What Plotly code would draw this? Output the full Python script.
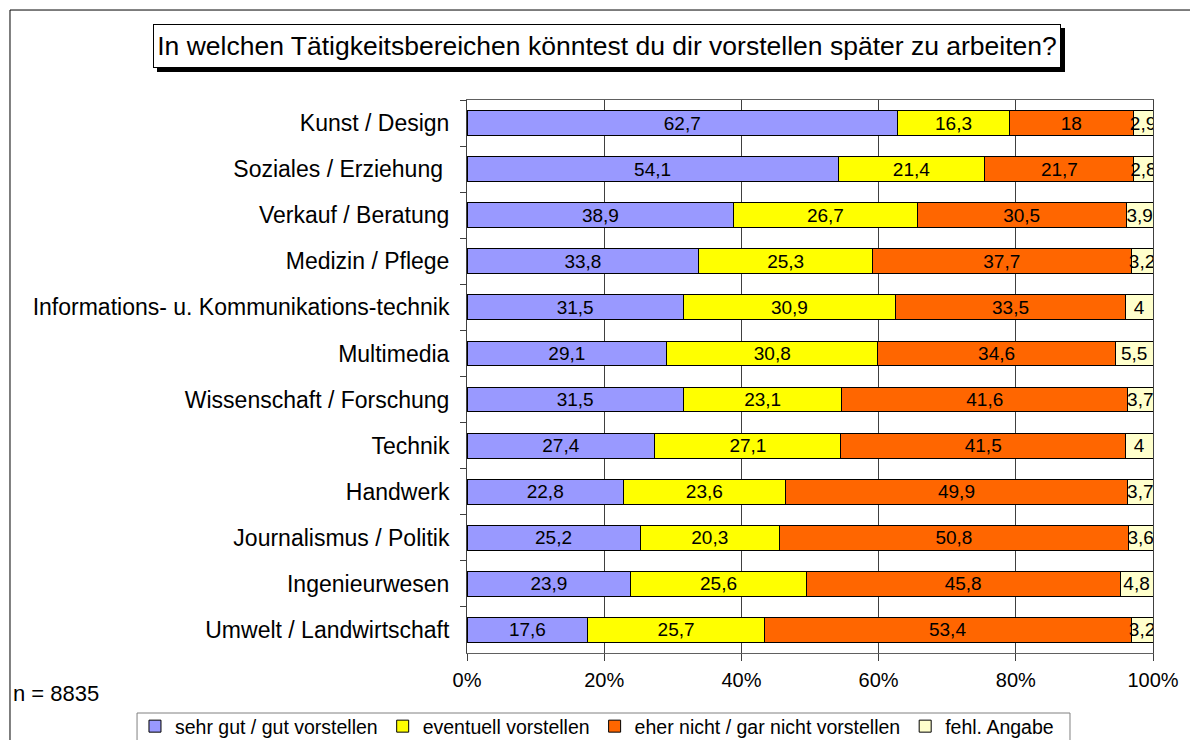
import plotly.graph_objects as go

# categories, top to bottom
categories = [
    "Kunst / Design",
    "Soziales / Erziehung\u00a0",
    "Verkauf / Beratung",
    "Medizin / Pflege",
    "Informations- u. Kommunikations-technik",
    "Multimedia",
    "Wissenschaft / Forschung",
    "Technik",
    "Handwerk",
    "Journalismus / Politik",
    "Ingenieurwesen",
    "Umwelt / Landwirtschaft",
]

sehr_gut = [62.7, 54.1, 38.9, 33.8, 31.5, 29.1, 31.5, 27.4, 22.8, 25.2, 23.9, 17.6]
eventuell = [16.3, 21.4, 26.7, 25.3, 30.9, 30.8, 23.1, 27.1, 23.6, 20.3, 25.6, 25.7]
eher_nicht = [18, 21.7, 30.5, 37.7, 33.5, 34.6, 41.6, 41.5, 49.9, 50.8, 45.8, 53.4]
fehl_angabe = [2.9, 2.8, 3.9, 3.2, 4, 5.5, 3.7, 4, 3.7, 3.6, 4.8, 3.2]

tick_vals = [0, 20, 40, 60, 80, 100]
tick_text = ["0%", "20%", "40%", "60%", "80%", "100%"]

series = [
    ("sehr gut / gut vorstellen", sehr_gut, "#9999FF"),
    ("eventuell vorstellen", eventuell, "#FFFF00"),
    ("eher nicht / gar nicht vorstellen", eher_nicht, "#FF6600"),
    ("fehl. Angabe", fehl_angabe, "#FFFFCC"),
]

FONT = "Arial, Liberation Sans, sans-serif"


def fmt(v):
    return f"{v:g}".replace(".", ",")


fig = go.Figure()
for name, vals, color in series:
    fig.add_trace(
        go.Bar(
            y=categories,
            x=vals,
            name=name,
            orientation="h",
            marker=dict(color=color, line=dict(color="black", width=1)),
            text=[fmt(v) for v in vals],
            textposition="inside",
            insidetextanchor="middle",
            textangle=0,
            constraintext="none",
            textfont=dict(family=FONT, size=19, color="black"),
            hoverinfo="name+x",
        )
    )

# title box with drop shadow
title = "In welchen Tätigkeitsbereichen könntest du dir vorstellen später zu arbeiten?"
for bg, shift in [("black", 4), ("white", 0)]:
    fig.add_annotation(
        text=title,
        xref="paper", yref="paper",
        x=0.2041, y=1.0976,
        xanchor="center", yanchor="middle",
        xshift=shift, yshift=-shift,
        width=906, height=42,
        showarrow=False,
        font=dict(family=FONT, size=26.5, color="black"),
        bgcolor=bg,
        bordercolor="black",
        borderwidth=1,
        borderpad=0,
    )

fig.add_annotation(
    text="n = 8835",
    xref="paper", yref="paper",
    x=-0.664, y=-0.073,
    xanchor="left", yanchor="middle",
    showarrow=False,
    font=dict(family=FONT, size=22, color="black"),
)

# outer chart border
fig.add_shape(
    type="rect", xref="paper", yref="paper",
    x0=-0.6662, x1=1.3, y0=-0.3, y1=1.1627,
    line=dict(color="black", width=1),
    layer="below",
)

# legend frame (runs off the bottom edge like in the original)
fig.add_shape(
    type="rect", xref="paper", yref="paper",
    x0=-0.481, x1=0.879, y0=-0.3, y1=-0.1085,
    line=dict(color="#808080", width=1),
    layer="below",
)

# the page body adds an 8px offset, so margins are shifted to compensate
fig.update_layout(
    width=1198,
    height=740,
    barmode="stack",
    barnorm="percent",
    bargap=0.46,
    plot_bgcolor="white",
    paper_bgcolor="white",
    font=dict(family=FONT, size=20, color="black"),
    margin=dict(l=459, r=53, t=92, b=95, autoexpand=False),
    showlegend=True,
    legend=dict(
        orientation="h",
        x=-0.484, y=-0.0976,
        xanchor="left", yanchor="top",
        traceorder="normal",
        font=dict(family=FONT, size=19.5, color="black"),
        bgcolor="rgba(0,0,0,0)",
        borderwidth=0,
        itemwidth=30,
    ),
)

fig.update_xaxes(
    range=[0, 100],
    tickmode="array",
    tickvals=tick_vals,
    ticktext=tick_text,
    ticks="outside",
    ticklen=7,
    tickcolor="#404040",
    showgrid=True,
    gridcolor="#404040",
    gridwidth=1,
    showline=True,
    linecolor="#606060",
    mirror=True,
    zeroline=False,
    ticklabelstandoff=2,
    tickfont=dict(family=FONT, size=20),
)

fig.update_yaxes(
    autorange="reversed",
    ticks="outside",
    tickson="boundaries",
    ticklen=6,
    tickcolor="#404040",
    showline=True,
    linecolor="#404040",
    mirror=True,
    showgrid=False,
    ticklabelstandoff=12,
    tickfont=dict(family=FONT, size=23),
)

fig.write_html("out.html")
